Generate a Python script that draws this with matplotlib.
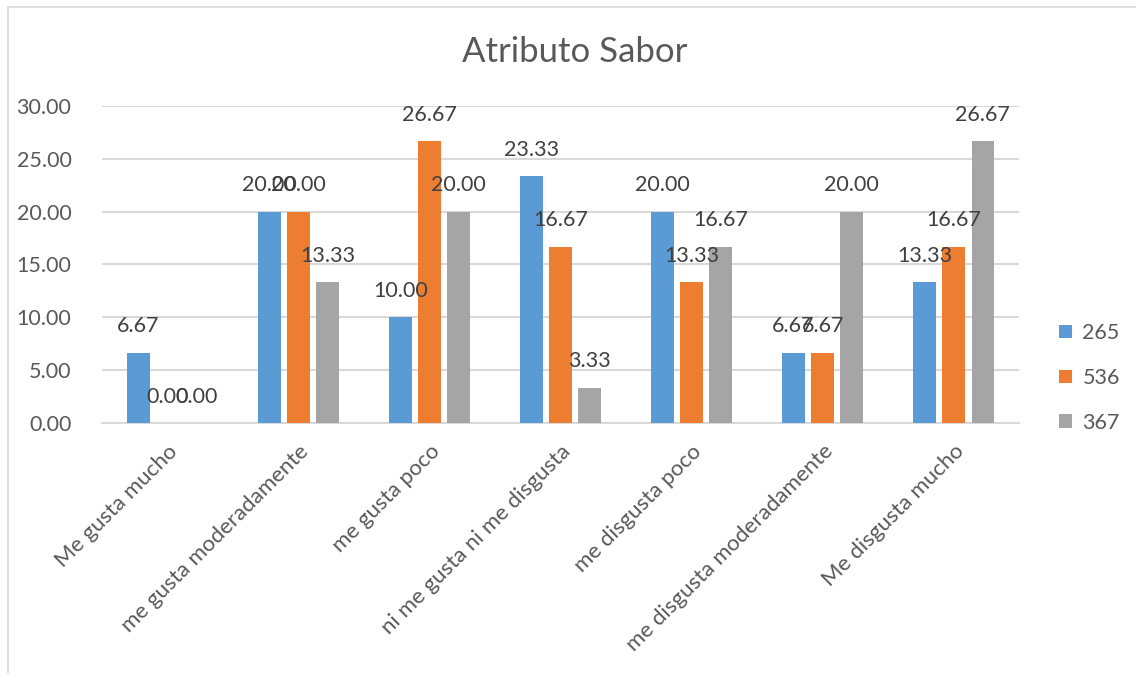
import numpy as np
import matplotlib.pyplot as plt
from matplotlib.lines import Line2D

plt.rcParams['font.family'] = ['Lato', 'DejaVu Sans']

# ========== Data ==========
categorias = ['Me gusta mucho', 'me gusta moderadamente', 'me gusta poco',
              'ni me gusta ni me disgusta', 'me disgusta poco',
              'me disgusta moderadamente', 'Me disgusta mucho']
series = ['265', '536', '367']
v265 = [6.67, 20.00, 10.00, 23.33, 20.00, 6.67, 13.33]
v536 = [0.00, 20.00, 26.67, 16.67, 13.33, 6.67, 16.67]
v367 = [0.00, 13.33, 20.00, 3.33, 16.67, 20.00, 26.67]
colores = ['#5B9BD5', '#ED7D31', '#A5A5A5']

TXT = '#595959'
GRID = '#D9D9D9'

fig = plt.figure(figsize=(11.36, 6.73), dpi=100)
ax = fig.add_axes([0.0898, 0.3715, 0.8074, 0.471])

x = np.arange(len(categorias))
w = 0.172
step = 0.222
for i, (vals, name, c) in enumerate(zip([v265, v536, v367], series, colores)):
    pos = x + (i - 1) * step
    ax.bar(pos, vals, width=w, color=c, label=name, zorder=3)
    for xp, v in zip(pos, vals):
        ax.annotate(f'{v:.2f}', (xp, v), xytext=(0, 19), textcoords='offset points',
                    ha='center', va='center', fontsize=15.5, color='#404040', zorder=4)

ax.set_xlim(-0.5, len(categorias) - 0.5)
ax.set_ylim(0, 30)
ax.set_yticks(np.arange(0, 31, 5))
ax.set_yticklabels([f'{t:.2f}' for t in np.arange(0, 31, 5)])
ax.yaxis.grid(True, color=GRID, linewidth=1.5, zorder=0)
ax.tick_params(axis='y', length=0, pad=22, labelsize=15.5, labelcolor=TXT)
ax.tick_params(axis='x', length=0, pad=13, labelsize=16, labelcolor=TXT)
ax.set_xticks(x)
ax.set_xticklabels(categorias, rotation=45, ha='right', rotation_mode='anchor')
for s in ['top', 'right', 'left']:
    ax.spines[s].set_visible(False)
ax.spines['bottom'].set_color(GRID)
ax.spines['bottom'].set_linewidth(1.5)

fig.text(0.506, 0.923, 'Atributo Sabor', ha='center', va='center', fontsize=25, color=TXT)

leg = ax.legend(loc='center left', bbox_to_anchor=(1.022, 0.142), frameon=False,
                fontsize=15.5, labelcolor=TXT, handlelength=0.6, handleheight=0.6,
                handletextpad=0.5, labelspacing=1.15)

# chart frame
fig.add_artist(Line2D([8 / 1136, 1], [1 - 7 / 673, 1 - 7 / 673], color=GRID, linewidth=1.2))
fig.add_artist(Line2D([8 / 1136, 8 / 1136], [0, 1 - 7 / 673], color=GRID, linewidth=1.2))

fig.savefig('out.png', dpi=100, facecolor='white')
